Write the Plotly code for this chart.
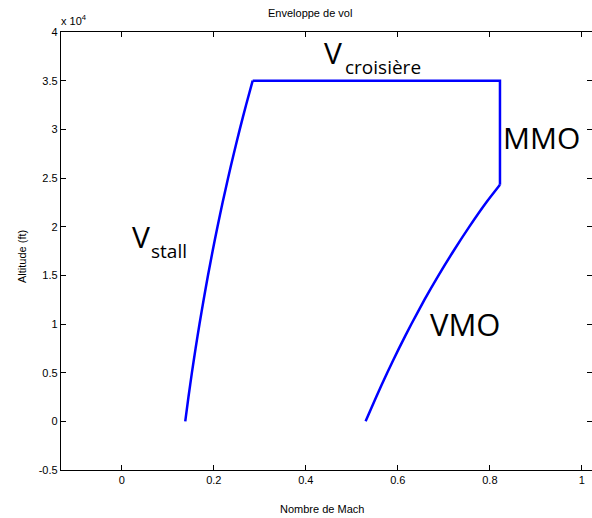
import plotly.graph_objects as go

# Stall boundary (Mach vs altitude, ft)
stall_alt = [0, 2500, 5000, 7500, 10000, 12500, 15000, 17500, 20000,
             22500, 25000, 27500, 30000, 32500, 35000]
stall_mach = [0.1380, 0.1450, 0.1525, 0.1605, 0.1690, 0.1780, 0.1875, 0.1975,
              0.2081, 0.2193, 0.2311, 0.2435, 0.2565, 0.2702, 0.2846]

# Cruise ceiling and MMO limit
ceiling_alt = 35000
mmo = 0.822

# VMO boundary
vmo_alt = [0, 2500, 5000, 7500, 10000, 12500, 15000, 17500, 20000, 22500, 24300]
vmo_mach = [0.530, 0.553, 0.577, 0.6025, 0.6295, 0.658, 0.6885, 0.721, 0.7555,
            0.7925, 0.822]

x_ticks = [0, 0.2, 0.4, 0.6, 0.8, 1.0]
x_tick_text = ["0", "0.2", "0.4", "0.6", "0.8", "1"]
y_ticks = [-5000, 0, 5000, 10000, 15000, 20000, 25000, 30000, 35000, 40000]
y_tick_text = ["-0.5", "0", "0.5", "1", "1.5", "2", "2.5", "3", "3.5", "4"]

line_style = dict(color="#0000ff", width=2.5, simplify=False)

fig = go.Figure()
# stall and VMO curves, smoothed through the sampled points
fig.add_trace(go.Scatter(x=stall_mach, y=stall_alt, mode="lines",
                         line=dict(shape="spline", smoothing=0.6, **line_style),
                         hoverinfo="skip", showlegend=False))
fig.add_trace(go.Scatter(x=vmo_mach, y=vmo_alt, mode="lines",
                         line=dict(shape="spline", smoothing=0.6, **line_style),
                         hoverinfo="skip", showlegend=False))
# cruise ceiling and MMO segment
fig.add_trace(go.Scatter(x=[stall_mach[-1], mmo, mmo],
                         y=[ceiling_alt, ceiling_alt, vmo_alt[-1]],
                         mode="lines", line=line_style,
                         hoverinfo="skip", showlegend=False))

label_font = "Open Sans"
big = 30
small = 19

annotations = [
    # V_stall
    dict(x=0.018, y=19000, text="V", xanchor="left", yanchor="middle",
         font=dict(family=label_font, size=big, color="black"), showarrow=False),
    dict(x=0.060, y=17450, text="stall", xanchor="left", yanchor="middle",
         font=dict(family=label_font, size=small, color="black"), showarrow=False),
    # V_croisiere
    dict(x=0.436, y=37850, text="V", xanchor="left", yanchor="middle",
         font=dict(family=label_font, size=big, color="black"), showarrow=False),
    dict(x=0.481, y=36400, text="croisière", xanchor="left", yanchor="middle",
         font=dict(family=label_font, size=small, color="black"), showarrow=False),
    # MMO / VMO
    dict(x=0.825, y=29150, text="MMO", xanchor="left", yanchor="middle",
         font=dict(family=label_font, size=big, color="black"), showarrow=False),
    dict(x=0.665, y=10000, text="VMO", xanchor="left", yanchor="middle",
         font=dict(family=label_font, size=31, color="black"), showarrow=False),
    # axis exponent
    dict(x=59, y=20, text="x 10<sup>4</sup>", showarrow=False,
         font=dict(family="Arial", size=11, color="black")),
    # title
    dict(x=310, y=13, text="Enveloppe de vol", showarrow=False,
         font=dict(family="Arial", size=11, color="black")),
    # axis titles
    dict(x=322, y=509, text="Nombre de Mach", showarrow=False,
         font=dict(family="Arial", size=11, color="black")),
    dict(x=22, y=257, text="Altitude (ft)", showarrow=False, textangle=-90,
         font=dict(family="Arial", size=11, color="black")),
]

# page labels are placed in pixels; convert them to paper coordinates
W, H = 592, 518
ml, mr, mt, mb = 61, 0, 32, 48
pw, ph = W - ml - mr, H - mt - mb
for a in annotations[6:]:
    a["xref"] = "paper"
    a["yref"] = "paper"
    a["x"] = (a["x"] - ml) / pw
    a["y"] = (H - mb - a["y"]) / ph
    a["xanchor"] = "center"
    a["yanchor"] = "middle"
annotations[6]["xanchor"] = "left"

axis_common = dict(
    showgrid=False, zeroline=False, showline=True, linecolor="black",
    linewidth=1.3, mirror="ticks", ticks="inside", ticklen=5,
    tickcolor="black", tickwidth=1,
    tickfont=dict(family="Arial", size=11, color="black"),
)

fig.update_layout(
    width=W, height=H,
    margin=dict(l=ml, r=mr, t=mt, b=mb),
    paper_bgcolor="white", plot_bgcolor="white",
    xaxis=dict(range=[-0.132, 1.022], tickvals=x_ticks, ticktext=x_tick_text,
               **axis_common),
    yaxis=dict(range=[-5000, 40000], tickvals=y_ticks, ticktext=y_tick_text,
               **axis_common),
    annotations=annotations,
)

fig.write_html("out.html")
